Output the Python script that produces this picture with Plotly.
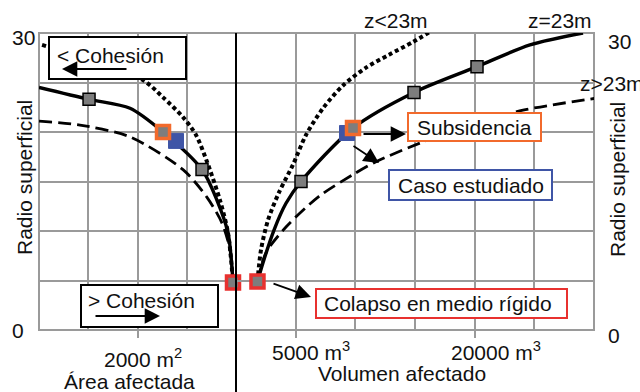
import plotly.graph_objects as go

# ---------------- data ----------------
# left panel: affected area (m2), reversed axis
area_solid_x = [4000, 2984, 2152, 1482, 690, 386, 162, 61]
area_solid_y = [24.5, 23.3, 22.4, 20.0, 16.2, 13.1, 9.8, 4.8]
area_dot_x = [3938, 1908, 1482, 1076, 812, 589, 325, 162, 61]
area_dot_y = [28.8, 25.3, 23.5, 21.5, 19.7, 17.0, 13.1, 9.8, 4.8]
area_dash_x = [4000, 3167, 2152, 1076, 589, 284, 122, 61]
area_dash_y = [21.1, 20.7, 19.5, 16.2, 13.4, 10.8, 8.1, 4.8]

# right panel: affected volume (m3)
vol_solid_x = [1800, 2263, 3184, 4190, 5447, 9805, 14916, 20196, 24637, 29079]
vol_solid_y = [4.9, 6.8, 10.1, 12.8, 15.0, 20.4, 24.0, 26.6, 28.8, 30.0]
vol_dot_x = [1800, 2095, 2682, 3603, 4777, 5866, 7291, 8967, 10894, 12821, 14833, 16509]
vol_dot_y = [4.9, 8.1, 11.1, 13.9, 16.7, 19.7, 22.4, 24.7, 26.5, 27.8, 29.1, 30.3]
vol_dash_x = [1800, 2514, 4190, 6955, 9805, 11732, 15671, 19944, 24051, 30084]
vol_dash_y = [4.9, 7.8, 10.4, 13.5, 15.7, 17.0, 19.0, 20.8, 22.2, 23.4]

# highlighted points
area_grey_x, area_grey_y = [2984, 690], [23.3, 16.2]
vol_grey_x, vol_grey_y = [5447, 14916, 20196], [15.0, 24.0, 26.6]
area_subs = (1482, 20.0)
vol_subs = (9805, 20.4)
area_case = (1218, 19.1)
vol_case = (9302, 19.9)
area_collapse = (61, 4.8)
vol_collapse = (1800, 4.9)

area_ticks = [2000]
area_ticklabels = ["2000 m<sup>2</sup>"]
vol_ticks = [5000, 20000]
vol_ticklabels = ["5000 m<sup>3</sup>", "20000 m<sup>3</sup>"]
curve_labels = ["z<23m", "z=23m", "z>23m"]

# ---------------- layout geometry ----------------
W, H = 640, 392
L, R, T, B = 39, 594, 33, 330
split = (236 - L) / (R - L)

def P(px, py):
    return (px - L) / (R - L), (B - py) / (B - T)

FONT = "Liberation Sans, Arial, sans-serif"
FS = 21
GRID = "#9a9a9a"
GREY = "#7d7d7d"
ORANGE = "#f26a2c"
BLUE = "#3f55a6"
RED = "#e8312f"

fig = go.Figure()

def curve(x, y, dash, xa, width=3.4):
    fig.add_trace(go.Scatter(x=x, y=y, mode="lines", xaxis=xa, yaxis="y",
                             line=dict(color="black", width=width, dash=dash,
                                       shape="spline", smoothing=0.8),
                             hoverinfo="skip"))

curve(area_dash_x, area_dash_y, "13px,6px", "x", 2.8)
curve(area_dot_x, area_dot_y, "4px,3px", "x", 4)
curve(area_solid_x, area_solid_y, "solid", "x")
curve(vol_dash_x, vol_dash_y, "13px,6px", "x2", 2.8)
curve(vol_dot_x, vol_dot_y, "4px,3px", "x2", 4)
curve(vol_solid_x, vol_solid_y, "solid", "x2")

def markers(x, y, xa, fill, line_color, line_w, size):
    fig.add_trace(go.Scatter(x=x, y=y, mode="markers", xaxis=xa, yaxis="y",
                             cliponaxis=False, hoverinfo="skip",
                             marker=dict(symbol="square", size=size, color=fill,
                                         line=dict(color=line_color, width=line_w))))

markers(area_grey_x, area_grey_y, "x", GREY, "black", 1.5, 12)
markers(vol_grey_x, vol_grey_y, "x2", GREY, "black", 1.5, 12)
markers([area_case[0]], [area_case[1]], "x", BLUE, BLUE, 1, 15)
markers([vol_case[0]], [vol_case[1]], "x2", BLUE, BLUE, 1, 15)
markers([area_subs[0]], [area_subs[1]], "x", GREY, ORANGE, 3.5, 13)
markers([vol_subs[0]], [vol_subs[1]], "x2", GREY, ORANGE, 3.5, 13)
markers([area_collapse[0]], [area_collapse[1]], "x", GREY, RED, 3.5, 13)
markers([vol_collapse[0]], [vol_collapse[1]], "x2", GREY, RED, 3.5, 13)

shapes = []
def box(x0, y0, x1, y1, color):
    a0, b0 = P(x0, y1)
    a1, b1 = P(x1, y0)
    shapes.append(dict(type="rect", xref="paper", yref="paper", x0=a0, y0=b0, x1=a1, y1=b1,
                       line=dict(color=color, width=2), fillcolor="white", layer="above"))

# plot border
shapes.append(dict(type="rect", xref="paper", yref="paper", x0=0, y0=0, x1=1, y1=1,
                   line=dict(color=GRID, width=2), layer="below"))
# separator line between panels
shapes.append(dict(type="line", xref="paper", yref="paper", x0=split, x1=split,
                   y0=(B - H) / (B - T), y1=1, line=dict(color="black", width=2), layer="above"))

box(49, 37, 186, 79, "black")
box(81, 285, 218, 327, "black")
box(408, 113, 541, 141, ORANGE)
box(389, 170, 552, 200, BLUE)
box(316, 289, 567, 318, RED)

ann = []
def text(s, px, py, xanchor="center", angle=0):
    x, y = P(px, py)
    ann.append(dict(text=s, x=x, y=y, xref="paper", yref="paper", showarrow=False,
                    xanchor=xanchor, yanchor="middle", textangle=angle,
                    font=dict(family=FONT, size=FS, color="#111111")))

def arrow(x0, y0, x1, y1):
    x, y = P(x1, y1)
    ann.append(dict(text="", x=x, y=y, xref="paper", yref="paper", showarrow=True,
                    ax=x0 - x1, ay=y0 - y1, axref="pixel", ayref="pixel",
                    arrowhead=2, arrowsize=1.7, arrowwidth=1.8, arrowcolor="black"))

text("< Cohesión", 110, 55)
arrow(128, 69, 62, 69)
text("> Cohesión", 141, 300)
arrow(94, 316, 160, 316)
text("Subsidencia", 474, 127)
arrow(362, 134, 406, 134)
text("Caso estudiado", 471, 185)
arrow(352, 145, 379, 163)
text("Colapso en medio rígido", 438, 303)
arrow(272, 283, 311, 297)

text(curve_labels[0], 396, 21)
text(curve_labels[1], 560, 21)
text(curve_labels[2], 578, 83, xanchor="left")

text("30", 23, 37)
text("0", 18, 330)
text("30", 619, 41)
text("0", 614, 335)
text("Radio superficial", 24, 178, angle=-90)
text("Radio superficial", 617, 180, angle=-90)

# tick labels placed at their tick values
for v, s in zip(area_ticks, area_ticklabels):
    ann.append(dict(text=s, x=v, y=0, xref="x", yref="paper", yshift=-28, xshift=-36,
                    showarrow=False, xanchor="left", yanchor="middle",
                    font=dict(family=FONT, size=FS, color="#111111")))
for v, s in zip(vol_ticks, vol_ticklabels):
    ann.append(dict(text=s, x=v, y=0, xref="x2", yref="paper", yshift=-21, xshift=-26,
                    showarrow=False, xanchor="left", yanchor="middle",
                    font=dict(family=FONT, size=FS, color="#111111")))
text("Área afectada", 129, 381)
text("Volumen afectado", 402, 373)

axis_common = dict(showline=False, zeroline=False, showticklabels=False,
                   showgrid=True, gridcolor=GRID, gridwidth=2,
                   ticks="outside", ticklen=7, tickwidth=2, tickcolor=GRID)

fig.update_layout(
    width=W, height=H,
    margin=dict(l=L, r=W - R, t=T, b=H - B),
    paper_bgcolor="white", plot_bgcolor="white",
    showlegend=False,
    font=dict(family=FONT, size=FS, color="#111111"),
    xaxis=dict(domain=[0, split], range=[4000, 0], tickvals=area_ticks,
               minor=dict(dtick=1000, showgrid=True, gridcolor=GRID, gridwidth=2, ticks=""),
               anchor="y", **axis_common),
    xaxis2=dict(domain=[split, 1], range=[0, 30000], tickvals=vol_ticks,
                minor=dict(dtick=5000, showgrid=True, gridcolor=GRID, gridwidth=2, ticks=""),
                anchor="y", **axis_common),
    yaxis=dict(range=[0, 30], dtick=5, showgrid=True, gridcolor=GRID, gridwidth=2,
               zeroline=False, showticklabels=False, ticks="", showline=False),
    shapes=shapes,
    annotations=ann,
)

fig.write_html("out.html", config={"displayModeBar": False},
               post_script="document.body.style.margin='0px';document.body.style.overflow='hidden';")
